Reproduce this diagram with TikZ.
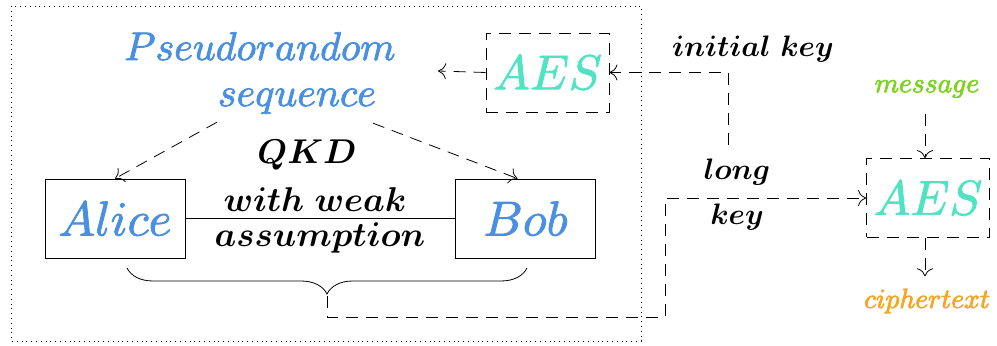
\documentclass[tikz,border=0pt]{standalone}
\usetikzlibrary{decorations.pathreplacing,calc,arrows.meta}
% scale the 10pt math italic designs to every size
\DeclareFontShape{OML}{cmm}{m}{it}{<->cmmi10}{}
\DeclareFontShape{OML}{cmm}{b}{it}{<->cmmib10}{}
% slightly heavier glyphs: fill and stroke the outlines
\newcommand\heavytext[1]{\special{pdf:literal direct 2 Tr 0.4 w}#1\special{pdf:literal direct 0 Tr}}
\definecolor{prblue}{HTML}{4A90E2}
\definecolor{aesteal}{HTML}{50E3C2}
\definecolor{msggreen}{HTML}{7ED321}
\definecolor{ctorange}{HTML}{F5A623}
\begin{document}
\begin{tikzpicture}[x=0.5pt,y=-0.5pt,
  aestxt/.style={font=\fontsize{24.5}{29}\selectfont},
  bigtxt/.style={font=\fontsize{24.5}{29}\selectfont},
  prtxt/.style={font=\fontsize{20}{23}\selectfont},
  midtxt/.style={font=\fontsize{17.2}{20}\selectfont\boldmath},
  keytxt/.style={font=\fontsize{14.8}{18}\selectfont\boldmath},
  smalltxt/.style={font=\fontsize{13.8}{16}\selectfont},
  aesbox/.style={draw, dash pattern=on 6pt off 4pt, minimum width=61.5pt,
    minimum height=39.5pt, inner sep=0pt, text=aesteal, aestxt},
  party/.style={draw, minimum width=70pt, minimum height=39.5pt,
    inner sep=0pt, text=prblue, bigtxt},
  flow/.style={dash pattern=on 6pt off 4pt, -{To[length=4pt,width=8pt]}},
]
\useasboundingbox (0,0) rectangle (997,346);

% protocol frame
\draw[dotted] (11,6) rectangle (641,341);

% nodes
\node[aesbox] (aes1) at (547.5,72.5) {\heavytext{$AES$}};
\node[aesbox] (aes2) at (928,198) {\heavytext{$AES$}};
\node[party] (alice) at (115,218.5) {\heavytext{$Alice$}};
\node[party] (bob) at (525.5,218.5) {\heavytext{$Bob$}};
\node[prtxt, text=prblue, align=center, inner sep=0pt] (pseudo) at (260,73)
  {\heavytext{$Pseudorandom$}\\\hspace*{37pt}\heavytext{$sequence$}};
\node[midtxt, inner sep=0pt] (qkd) at (307,155) {$QKD$};
\node[midtxt, inner sep=0pt] (weak) at (315,200) {$with\ weak$};
\node[midtxt, inner sep=0pt] (assump) at (320,238) {$assumption$};
\node[keytxt, inner sep=0pt] (initkey) at (753,49) {$initial\ key$};
\node[keytxt, inner sep=0pt] (long) at (737,172) {$long$};
\node[keytxt, inner sep=0pt] (key) at (737,217) {$key$};
\node[smalltxt, text=msggreen, inner sep=0pt] (message) at (927,89) {\heavytext{$message$}};
\node[smalltxt, text=ctorange, inner sep=0pt] (cipher) at (927,301) {\heavytext{$ciphertext$}};

% helper points
\coordinate (prin) at (438,71);
\coordinate (keyin) at (728,145);
\coordinate (bl) at (127,268);
\coordinate (br) at (527,268);
\coordinate (bt) at (327,296);

% connectors
\draw (alice.east) -- (bob.west);
\draw[flow] (aes1.west) -- (prin);
\draw[flow] ($(pseudo.south)+(-43,8)$) -- (alice.north);
\draw[flow] ($(pseudo.south)+(113,9)$) -- ($(bob.north)+(-8,0)$);
\draw[flow] (keyin) |- (aes1.east);
\draw[decorate, decoration={brace, mirror, amplitude=13pt}] (bl) -- (br);
\draw[flow] (bt) -- (327,317) -| (665,198) -- (aes2.west);
\draw[flow] ($(message.south)+(-2,16)$) -- ($(aes2.north)+(-3,0)$);
\draw[flow] ($(aes2.south)+(-3,0)$) -- ($(cipher.north)+(-2,-12)$);
\end{tikzpicture}
\end{document}
